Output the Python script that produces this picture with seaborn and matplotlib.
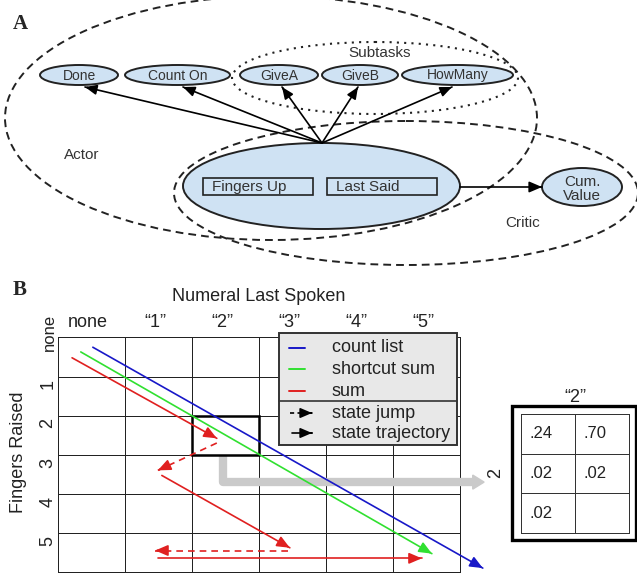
import numpy as np
import matplotlib
matplotlib.use('Agg')
import matplotlib.pyplot as plt
import seaborn as sns
from matplotlib.colors import ListedColormap
from matplotlib.patches import Ellipse, Rectangle, Polygon

sns.set_style('white')
plt.rcParams['font.family'] = ['Liberation Sans', 'DejaVu Sans']

# panel A: actor / critic graph
action_nodes = ['Done', 'Count On', 'GiveA', 'GiveB', 'HowMany']
state_features = ['Fingers Up', 'Last Said']
critic_node = 'Cum.\nValue'

# panel B: state grid (grid units, column = numeral said, row = fingers up)
col_labels = ['none', '\u201c1\u201d', '\u201c2\u201d', '\u201c3\u201d', '\u201c4\u201d', '\u201c5\u201d']
row_labels = ['none', '1', '2', '3', '4', '5']
count_list_x = [0.52, 6.34]
count_list_y = [0.25, 5.90]
shortcut_x = [0.34, 5.58]
shortcut_y = [0.37, 5.53]
sum_x0 = [0.21, 2.37, 1.55, 3.43, 1.49]
sum_y0 = [0.52, 2.70, 3.53, 5.45, 5.65]
sum_x1 = [2.37, 1.49, 3.46, 1.45, 5.43]
sum_y1 = [2.58, 3.40, 5.38, 5.45, 5.65]
sum_jump = [False, True, False, True, False]

# zoomed cell: "2" said, 2 fingers up -> action probabilities
cell_probs = [[0.24, 0.70], [0.02, 0.02], [0.02, np.nan]]
cell_text = [['.24', '.70'], ['.02', '.02'], ['.02', '']]

BLUE, GREEN, RED = '#1818c8', '#30e030', '#e02020'
FILL = '#cfe2f3'
INK = '#222222'


def arrow(ax, x0, y0, x1, y1, color='black', ls='-', lw=1.2, head=11, z=3):
    ax.plot([x0, x1], [y0, y1], color=color, ls=ls, lw=lw, zorder=z, clip_on=False)
    ax.annotate('', xy=(x1, y1),
                xytext=(x1 - (x1 - x0) * 0.03, y1 - (y1 - y0) * 0.03),
                arrowprops=dict(arrowstyle='-|>,head_length=0.7,head_width=0.3',
                                color=color, lw=lw, shrinkA=0, shrinkB=0,
                                mutation_scale=head),
                zorder=z, annotation_clip=False)


fig = plt.figure(figsize=(6.37, 5.73), dpi=100)
W, H = 637, 573

# ---------------- panel B grid ----------------
ax_b = fig.add_axes([58 / W, (H - 572) / H, 402 / W, 240 / H])
sns.heatmap(np.zeros((6, 6)), ax=ax_b, cmap=ListedColormap(['white']), cbar=False,
            linewidths=0.7, linecolor=INK, xticklabels=col_labels, yticklabels=row_labels)
ax_b.collections[0].set_clip_on(False)
ax_b.xaxis.tick_top()
ax_b.set_xticks(np.arange(6) + 0.45, col_labels, fontsize=13, color=INK)
ypos = np.arange(6) + 0.2
ypos[0] = -0.14
ax_b.set_yticks(ypos, row_labels, rotation=90, va='center', fontsize=13, color=INK)
ax_b.get_yticklabels()[0].set_fontsize(12)
ax_b.tick_params(length=0, pad=1)
ax_b.xaxis.set_label_position('top')
ax_b.set_xlabel('Numeral Last Spoken', fontsize=13, labelpad=9, color=INK)
ax_b.set_ylabel('Fingers Raised', fontsize=13, labelpad=9, color=INK)

# highlighted state and the pointer to the zoomed cell
ax_b.add_patch(Rectangle((2, 2), 1, 1, fill=False, lw=1.8, ec='black', zorder=3))
ax_b.plot([2.46, 2.46, 6.19], [3.0, 3.7, 3.7], color='#cacaca', lw=6,
          solid_joinstyle='round', solid_capstyle='butt', zorder=2, clip_on=False)
ax_b.add_patch(Polygon([(6.19, 3.52), (6.36, 3.7), (6.19, 3.88)], closed=True,
                       color='#cacaca', zorder=2, clip_on=False))

arrow(ax_b, count_list_x[0], count_list_y[0], count_list_x[1], count_list_y[1], BLUE, z=4)
arrow(ax_b, shortcut_x[0], shortcut_y[0], shortcut_x[1], shortcut_y[1], GREEN, z=4)
for x0, y0, x1, y1, jump in zip(sum_x0, sum_y0, sum_x1, sum_y1, sum_jump):
    arrow(ax_b, x0, y0, x1, y1, RED, ls=(0, (4, 3)) if jump else '-', z=4)

# ---------------- zoomed cell table ----------------
ax_in = fig.add_axes([521 / W, (H - 533) / H, 108 / W, 119 / H])
sns.heatmap(np.array(cell_probs), ax=ax_in, cmap=ListedColormap(['white']), cbar=False,
            linewidths=0.6, linecolor='#333333', annot=np.array(cell_text), fmt='',
            annot_kws={'size': 12, 'color': INK})
ax_in.collections[0].set_clip_on(False)
for t in ax_in.texts:
    x, y = t.get_position()
    t.set_ha('left')
    t.set_position((x - 0.5 + 0.16, y))
ax_in.set_xticks([])
ax_in.set_yticks([])
ax_in.xaxis.set_label_position('top')
ax_in.set_xlabel('\u201c2\u201d', fontsize=13, labelpad=9, color=INK)
ax_in.set_ylabel('2', fontsize=13, labelpad=12, color=INK)

# ---------------- overlay canvas (panel A, legend, frames) ----------------
cv = fig.add_axes([0, 0, 1, 1], zorder=5)
cv.set_xlim(0, W)
cv.set_ylim(H, 0)
cv.axis('off')
cv.patch.set_alpha(0)

cv.text(20, 24, 'A', fontsize=15, fontweight='bold', family='Liberation Serif',
        ha='center', va='center')
cv.text(20, 290, 'B', fontsize=15, fontweight='bold', family='Liberation Serif',
        ha='center', va='center')

dash = (0, (4, 2.6))
cv.add_patch(Ellipse((271, 118), 532, 244, fill=False, ec=INK, lw=1.4, ls=dash, zorder=1))
cv.add_patch(Ellipse((406, 193), 464, 144, fill=False, ec=INK, lw=1.4, ls=dash, zorder=1))
cv.add_patch(Ellipse((375, 78), 286, 72, fill=False, ec=INK, lw=1.5, ls=(0, (1, 2.5)), zorder=1))
cv.text(380, 53, 'Subtasks', fontsize=11, ha='center', va='center', color='#333333')
cv.text(82, 155, 'Actor', fontsize=11, ha='center', va='center', color='#333333')
cv.text(523, 223, 'Critic', fontsize=11, ha='center', va='center', color='#333333')

node_x = [79, 177.5, 279, 360, 457.5]
node_w = [78, 105, 78, 76, 111]
tip_x = [85, 183, 282, 358, 452]
for name, x, w, tx in zip(action_nodes, node_x, node_w, tip_x):
    cv.add_patch(Ellipse((x, 75), w, 20, fc=FILL, ec=INK, lw=1.4, zorder=2))
    cv.text(x, 75.5, name, fontsize=10, ha='center', va='center', color='#333333', zorder=3)
    arrow(cv, 322, 143, tx, 87, 'black', lw=1.2, head=10, z=3)

# state node with its two features
cv.add_patch(Ellipse((321.5, 186), 277, 86, fc=FILL, ec=INK, lw=1.4, zorder=2))
for name, x0 in zip(state_features, [203, 327]):
    cv.add_patch(Rectangle((x0, 178), 110, 17, fill=False, ec=INK, lw=1.2, zorder=3))
    cv.text(x0 + 9, 187, name, fontsize=11, ha='left', va='center', color='#333333', zorder=3)

arrow(cv, 460, 187, 542, 187, 'black', lw=1.2, head=11, z=3)
cv.add_patch(Ellipse((582, 187), 80, 38, fc=FILL, ec=INK, lw=1.4, zorder=2))
cv.text(582, 189, critic_node, fontsize=11, ha='center', va='center', color='#333333',
        linespacing=1.0, zorder=3)

# legend box
cv.add_patch(Rectangle((279, 333), 178, 112, fc='#e8e8e8', ec='#333333', lw=1.4, zorder=6))
cv.plot([279, 457], [401, 401], color='#333333', lw=1.2, zorder=7)
for y, c, lab in zip([348, 369, 391], [BLUE, GREEN, RED], ['count list', 'shortcut sum', 'sum']):
    cv.plot([289, 305], [y, y], color=c, lw=1.4, zorder=7)
    cv.text(332, y, lab, fontsize=13, ha='left', va='center', color=INK, zorder=7)
arrow(cv, 290, 413, 312, 413, 'black', ls=(0, (2.5, 2)), lw=1.2, head=10, z=7)
cv.text(332, 413, 'state jump', fontsize=13, ha='left', va='center', color=INK, zorder=7)
arrow(cv, 292, 433, 312, 433, 'black', lw=1.2, head=10, z=7)
cv.text(332, 433, 'state trajectory', fontsize=13, ha='left', va='center', color=INK, zorder=7)

# frame round the zoomed cell
cv.add_patch(Rectangle((512, 406), 124, 134, fill=False, ec='black', lw=2.4, zorder=6))

fig.savefig('out.png', dpi=100)
